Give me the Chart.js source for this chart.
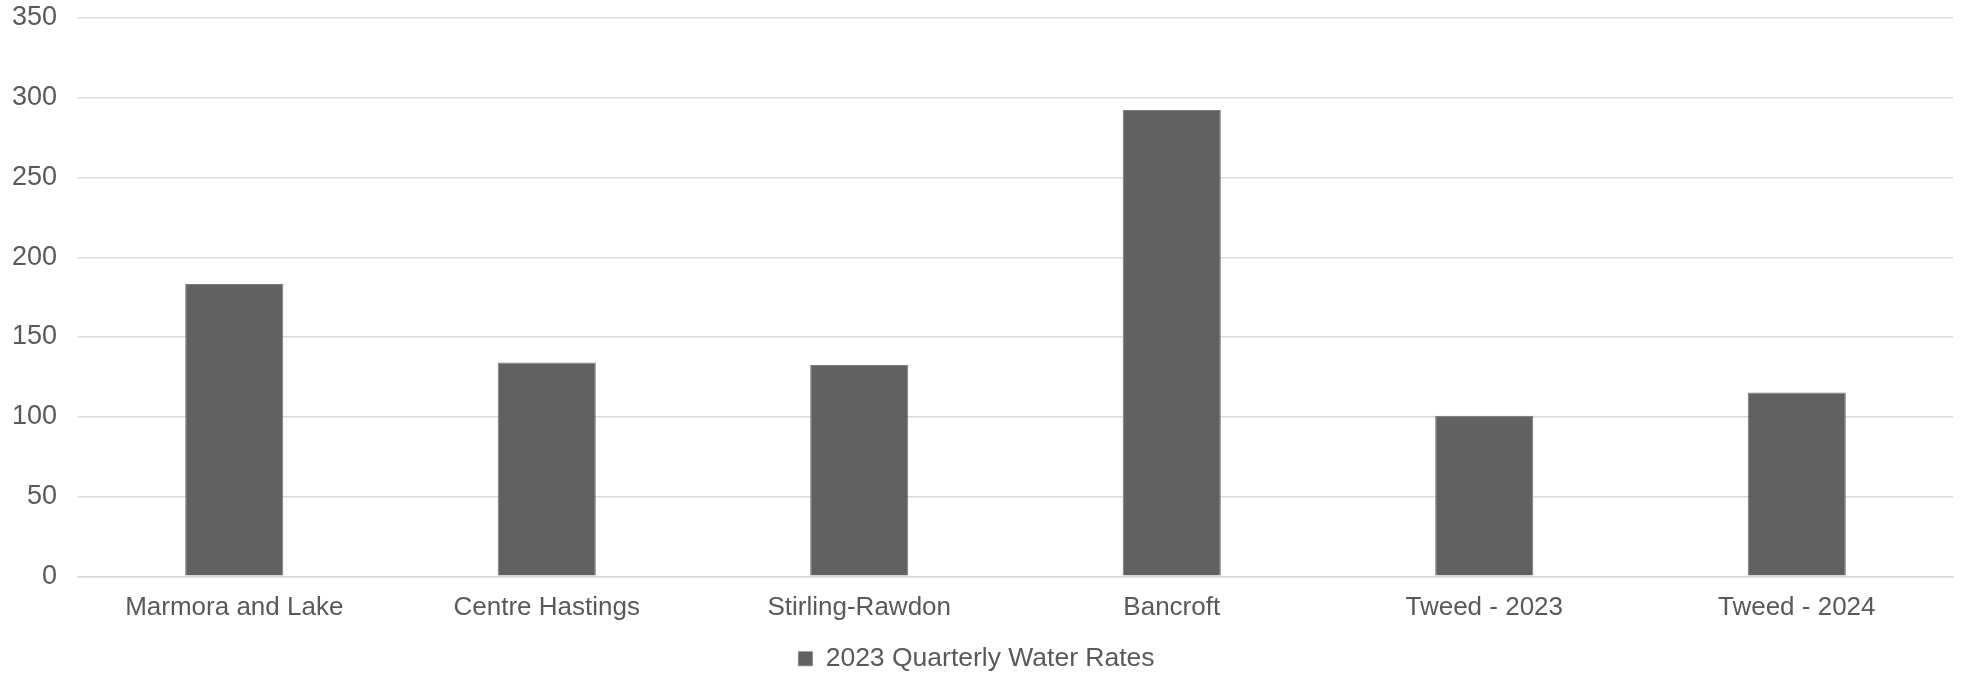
<!DOCTYPE html>
<html>
<head>
<meta charset="utf-8">
<script src="https://cdn.jsdelivr.net/npm/chart.js@4/dist/chart.umd.min.js"></script>
<style>
  html, body { margin: 0; padding: 0; background: #fff; }
  #wrap { width: 1965px; height: 674px; position: relative; }
</style>
</head>
<body>
<div id="wrap"><canvas id="waterChart"></canvas></div>
<script>
  // quarterly water rates by municipality ($)
  const categories = ['Marmora and Lake', 'Centre Hastings', 'Stirling-Rawdon', 'Bancroft', 'Tweed - 2023', 'Tweed - 2024'];
  const rates = [183.3, 134.1, 132.4, 292.3, 100.6, 115.2];
  const seriesName = '2023 Quarterly Water Rates';
  const yTicks = [0, 50, 100, 150, 200, 250, 300, 350];

  Chart.defaults.font.family = '"Liberation Sans", Arial, sans-serif';
  Chart.defaults.color = '#595959';

  new Chart(document.getElementById('waterChart'), {
    type: 'bar',
    data: {
      labels: categories,
      datasets: [{
        label: seriesName,
        data: rates,
        backgroundColor: '#616161',
        borderColor: '#7a7a7a',
        borderWidth: { top: 1, left: 1, right: 1, bottom: 0 },
        categoryPercentage: 1,
        barPercentage: 0.314
      }]
    },
    options: {
      responsive: true,
      maintainAspectRatio: false,
      animation: false,
      layout: { padding: { top: 18, right: 12, left: 0, bottom: -8 } },
      plugins: {
        legend: {
          position: 'bottom',
          labels: { boxWidth: 14, boxHeight: 14, padding: 14, font: { size: 26.5 }, color: '#595959' }
        },
        tooltip: { enabled: false }
      },
      scales: {
        x: {
          grid: { display: false },
          border: { color: '#d9d9d9', width: 1.5 },
          ticks: { font: { size: 26 }, color: '#595959', padding: 8, maxRotation: 0, autoSkip: false }
        },
        y: {
          min: 0,
          max: 350,
          afterBuildTicks: (scale) => { scale.ticks = yTicks.map(v => ({ value: v })); },
          // fixed gutter; let the top "350" label hang into the padding
          afterFit: (scale) => { scale.width = 78; scale.paddingTop = 0; scale.paddingBottom = 0; },
          grid: { color: '#d9d9d9', lineWidth: 1.5, drawTicks: false },
          border: { display: false },
          ticks: { font: { size: 27 }, color: '#595959', padding: 21 }
        }
      }
    }
  });
</script>
</body>
</html>
